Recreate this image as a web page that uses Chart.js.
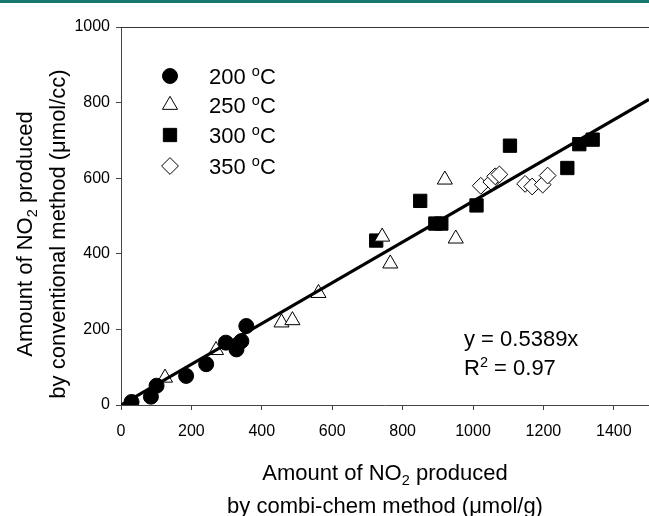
<!DOCTYPE html>
<html><head><meta charset="utf-8">
<script src="https://cdn.jsdelivr.net/npm/chart.js@4/dist/chart.umd.min.js"></script>
<style>
html,body{margin:0;padding:0;background:#fff;}
#wrap{position:relative;width:649px;height:516px;overflow:hidden;}
#bar{position:absolute;left:0;top:0;width:649px;height:3px;background:#18786e;}
canvas{position:absolute;left:0;top:0;}
</style></head><body>
<div id="wrap"><canvas id="c" width="649" height="516"></canvas><div id="bar"></div></div>
<script>
// ---- data ----
const seriesNames = ['200', '250', '300', '350'];
const x200 = [30, 85, 101, 185, 242, 298, 328, 342, 356];
const y200 = [8, 22, 51, 77, 108, 165, 147, 169, 209];
const x250 = [125, 270, 456, 487, 561, 742, 765, 920, 951];
const y250 = [72, 145, 218, 224, 296, 445, 374, 596, 440];
const x300 = [725, 850, 893, 910, 1010, 1105, 1268, 1302, 1340];
const y300 = [435, 540, 480, 480, 528, 686, 627, 690, 702];
const x350 = [1022, 1052, 1063, 1075, 1148, 1168, 1198, 1212];
const y350 = [580, 590, 605, 610, 585, 578, 583, 607];
const fitSlope = 0.5389;
const fitR2 = '0.97';
const fitRange = [0, 1500];
const xTickValues = [0, 200, 400, 600, 800, 1000, 1200, 1400];
const yTickValues = [0, 200, 400, 600, 800, 1000];

const FAM = '"Liberation Sans", Arial, Helvetica, sans-serif';
const pts = (xs, ys) => xs.map((x, i) => ({x: x, y: ys[i]}));

const styles = [
  {pointStyle: 'circle', radius: 7.5, fill: '#000'},
  {pointStyle: 'triangle', radius: 8.7, fill: '#fff'},
  {pointStyle: 'rect', radius: 9.4, fill: '#000'},
  {pointStyle: 'rectRot', radius: 8.4, fill: '#fff'}
];
const seriesData = [pts(x200, y200), pts(x250, y250), pts(x300, y300), pts(x350, y350)];

const datasets = seriesNames.map((n, i) => ({
  label: n + ' °C',
  data: seriesData[i],
  pointStyle: styles[i].pointStyle,
  pointRadius: styles[i].radius,
  pointHoverRadius: styles[i].radius,
  backgroundColor: styles[i].fill,
  borderColor: '#000',
  borderWidth: 1,
  showLine: false,
  order: 1
}));
datasets.push({
  label: 'fit',
  data: fitRange.map(x => ({x: x, y: fitSlope * x})),
  showLine: true,
  borderColor: '#000',
  borderWidth: 3.2,
  pointRadius: 0,
  fill: false,
  order: 0
});

function markerPath(ctx, style, x, y, r) {
  ctx.beginPath();
  if (style === 'circle') { ctx.arc(x, y, r, 0, Math.PI * 2); }
  else if (style === 'triangle') {
    let a = 0;
    ctx.moveTo(x + Math.sin(a) * r, y - Math.cos(a) * r);
    a += 2 * Math.PI / 3; ctx.lineTo(x + Math.sin(a) * r, y - Math.cos(a) * r);
    a += 2 * Math.PI / 3; ctx.lineTo(x + Math.sin(a) * r, y - Math.cos(a) * r);
    ctx.closePath();
  } else if (style === 'rect') {
    const s = Math.SQRT1_2 * r; ctx.rect(x - s, y - s, 2 * s, 2 * s);
  } else {
    ctx.moveTo(x, y - r); ctx.lineTo(x + r, y); ctx.lineTo(x, y + r); ctx.lineTo(x - r, y); ctx.closePath();
  }
}

function font(size) { return size + 'px ' + FAM; }
function richWidth(ctx, parts, size) {
  let w = 0;
  for (const p of parts) { ctx.font = font((p.sub || p.sup) ? size * 0.66 : size); w += ctx.measureText(p.t).width; }
  return w;
}
function drawRich(ctx, parts, x, y, size, align) {
  const w = richWidth(ctx, parts, size);
  let cx = align === 'center' ? x - w / 2 : x;
  const base = y + size * 0.36;
  ctx.textBaseline = 'alphabetic';
  ctx.textAlign = 'left';
  for (const p of parts) {
    const s = (p.sub || p.sup) ? size * 0.66 : size;
    ctx.font = font(s);
    const dy = p.sub ? size * 0.22 : (p.sup ? -size * 0.38 : 0);
    ctx.fillText(p.t, cx, base + dy);
    cx += ctx.measureText(p.t).width;
  }
}

const decor = {
  id: 'decor',
  afterDraw(chart) {
    const ctx = chart.ctx;
    const a = chart.chartArea;
    ctx.save();
    // top frame
    ctx.strokeStyle = '#333'; ctx.lineWidth = 1;
    ctx.beginPath(); ctx.moveTo(a.left, a.top + 0.5); ctx.lineTo(649, a.top + 0.5); ctx.stroke();
    ctx.fillStyle = '#000';
    const T = 22;
    // legend
    const rows = [76, 105, 135, 166];
    seriesNames.forEach((n, i) => {
      ctx.fillStyle = styles[i].fill; ctx.strokeStyle = '#000'; ctx.lineWidth = 1;
      markerPath(ctx, styles[i].pointStyle, 170, rows[i], styles[i].radius);
      ctx.fill(); ctx.stroke();
      ctx.fillStyle = '#000';
      drawRich(ctx, [{t: n + ' '}, {t: 'o', sup: true}, {t: 'C'}], 209, rows[i], T, 'left');
    });
    // equation
    drawRich(ctx, [{t: 'y = ' + fitSlope + 'x'}], 464, 338, T, 'left');
    drawRich(ctx, [{t: 'R'}, {t: '2', sup: true}, {t: ' = ' + fitR2}], 464, 367, T, 'left');
    // x title
    const cxm = (a.left + a.right) / 2;
    drawRich(ctx, [{t: 'Amount of NO'}, {t: '2', sub: true}, {t: ' produced'}], cxm, 472, T, 'center');
    drawRich(ctx, [{t: 'by combi-chem method (\u03bcmol/g)'}], cxm, 505, T, 'center');
    // y title
    const cym = 234;
    ctx.save(); ctx.translate(24, cym); ctx.rotate(-Math.PI / 2);
    drawRich(ctx, [{t: 'Amount of NO'}, {t: '2', sub: true}, {t: ' produced'}], 0, 0, T, 'center');
    ctx.restore();
    ctx.save(); ctx.translate(57, cym); ctx.rotate(-Math.PI / 2);
    drawRich(ctx, [{t: 'by conventional method (\u03bcmol/cc)'}], 0, 0, T, 'center');
    ctx.restore();
    ctx.restore();
  }
};

new Chart(document.getElementById('c'), {
  type: 'scatter',
  data: {datasets: datasets},
  options: {
    responsive: false,
    animation: false,
    events: [],
    layout: {autoPadding: false, padding: {top: 27, right: 0, left: 0, bottom: 0}},
    plugins: {legend: {display: false}, tooltip: {enabled: false}, title: {display: false}},
    scales: {
      x: {
        type: 'linear', min: 0, max: 1500,
        afterBuildTicks: s => { s.ticks = xTickValues.map(v => ({value: v})); },
        ticks: {color: '#000', font: {size: 16, family: FAM}, padding: 12, maxRotation: 0, callback: v => String(v)},
        grid: {display: true, drawOnChartArea: false, drawTicks: true, tickLength: 5, color: '#444'},
        border: {display: true, color: '#444', width: 1},
        afterFit: s => { s.height = 111; s.paddingLeft = 0; s.paddingRight = 0; }
      },
      y: {
        type: 'linear', min: 0, max: 1000,
        afterBuildTicks: s => { s.ticks = yTickValues.map(v => ({value: v})); },
        ticks: {color: '#000', font: {size: 16, family: FAM}, padding: 6, callback: v => String(v)},
        grid: {display: true, drawOnChartArea: false, drawTicks: true, tickLength: 5, color: '#444'},
        border: {display: true, color: '#444', width: 1},
        afterFit: s => { s.width = 121; s.paddingTop = 0; s.paddingBottom = 0; }
      }
    }
  },
  plugins: [decor]
});
</script>
</body></html>
